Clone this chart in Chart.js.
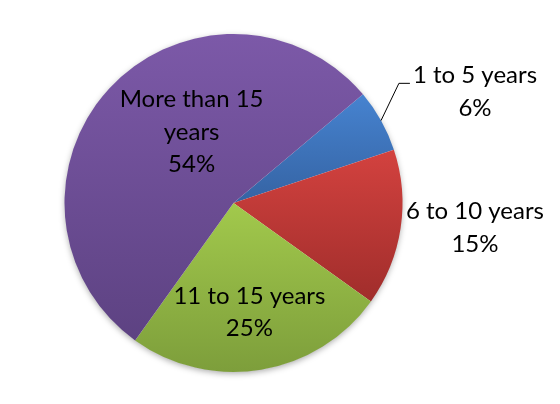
<!DOCTYPE html>
<html><head><meta charset="utf-8">
<script src="https://cdn.jsdelivr.net/npm/chart.js@4"></script>
<style>html,body{margin:0;padding:0;background:#fff}#wrap{width:560px;height:404px;position:relative}</style>
</head><body><div id="wrap"><canvas id="c"></canvas></div>
<script>
// ---- data ----
const categories = ["1 to 5 years", "6 to 10 years", "11 to 15 years", "More than 15 years"];
const shares = [6, 15, 25, 54];
const categoryLines = [["1 to 5 years"], ["6 to 10 years"], ["11 to 15 years"], ["More than 15", "years"]];

// ---- styles ----
const colorsTop = ["#4683D0", "#D3423F", "#A2C94C", "#7C59A8"];
const colorsBottom = ["#3563A3", "#A02D2B", "#7D9E3B", "#5D4282"];
const labelPlacement = [
  { angle: 65.2, r: 1.574, leader: true },
  { angle: 95.7, r: 1.436 },
  { angle: 171.7, r: 0.652 },
  { angle: 329.6, r: 0.49 }
];
const FONT_SIZE = 24;
const FONT = FONT_SIZE + "px Lato, 'Open Sans', sans-serif";
const LINE_H = 32.5;

function arcBBox(a) {
  const pts = [[a.x, a.y]];
  const R = a.outerRadius;
  const add = t => pts.push([a.x + Math.cos(t) * R, a.y + Math.sin(t) * R]);
  add(a.startAngle); add(a.endAngle);
  for (let k = -8; k <= 8; k++) {
    const t = k * Math.PI / 2;
    if (t > a.startAngle && t < a.endAngle) add(t);
  }
  const ys = pts.map(p => p[1]);
  return { top: Math.min(...ys), bottom: Math.max(...ys) };
}

const gradientPlugin = {
  id: 'grad',
  beforeDatasetsDraw(chart) {
    const ctx = chart.ctx;
    const meta = chart.getDatasetMeta(0);
    const a0 = meta.data[0];
    ctx.save();
    ctx.beginPath();
    ctx.arc(a0.x, a0.y, a0.outerRadius - 0.5, 0, Math.PI * 2);
    ctx.shadowColor = 'rgba(0,0,0,0.35)';
    ctx.shadowBlur = 6;
    ctx.shadowOffsetY = 2;
    ctx.fillStyle = '#fff';
    ctx.fill();
    ctx.restore();
    meta.data.forEach((arc, i) => {
      const bb = arcBBox(arc);
      const g = ctx.createLinearGradient(0, bb.top, 0, bb.bottom);
      g.addColorStop(0, colorsTop[i]);
      g.addColorStop(1, colorsBottom[i]);
      arc.options.backgroundColor = g;
    });
  }
};

const labelPlugin = {
  id: 'labels',
  afterDatasetsDraw(chart) {
    const ctx = chart.ctx;
    const meta = chart.getDatasetMeta(0);
    ctx.save();
    ctx.font = FONT;
    ctx.fillStyle = '#000';
    ctx.textAlign = 'center';
    ctx.textBaseline = 'alphabetic';
    meta.data.forEach((arc, i) => {
      const p = labelPlacement[i];
      const ang = p.angle * Math.PI / 180;
      const R = arc.outerRadius;
      const cx = arc.x + Math.sin(ang) * R * p.r;
      const cy = arc.y - Math.cos(ang) * R * p.r;
      const lines = categoryLines[i].concat([shares[i] + "%"]);
      const n = lines.length;
      const capOff = FONT_SIZE * 0.34;
      lines.forEach((t, k) => {
        ctx.fillText(t, cx, cy + (k - (n - 1) / 2) * LINE_H + capOff);
      });
      if (p.leader) {
        const w = ctx.measureText(lines[0]).width;
        const left = cx - w / 2;
        const by = cy - (n - 1) / 2 * LINE_H + capOff;
        const mid = (arc.startAngle + arc.endAngle) / 2;
        ctx.beginPath();
        ctx.strokeStyle = '#000';
        ctx.lineWidth = 1;
        ctx.moveTo(arc.x + Math.cos(mid) * R, arc.y + Math.sin(mid) * R);
        ctx.lineTo(left - 14, by);
        ctx.lineTo(left - 3, by);
        ctx.stroke();
      }
    });
    ctx.restore();
  }
};

new Chart(document.getElementById('c'), {
  type: 'pie',
  data: {
    labels: categories,
    datasets: [{
      data: shares,
      backgroundColor: colorsTop,
      borderWidth: 0
    }]
  },
  options: {
    responsive: true,
    maintainAspectRatio: false,
    animation: false,
    rotation: 50,
    layout: { padding: { left: 64, right: 157, top: 34, bottom: 32 } },
    plugins: { legend: { display: false }, tooltip: { enabled: false } }
  },
  plugins: [gradientPlugin, labelPlugin]
});
</script>
</body></html>
